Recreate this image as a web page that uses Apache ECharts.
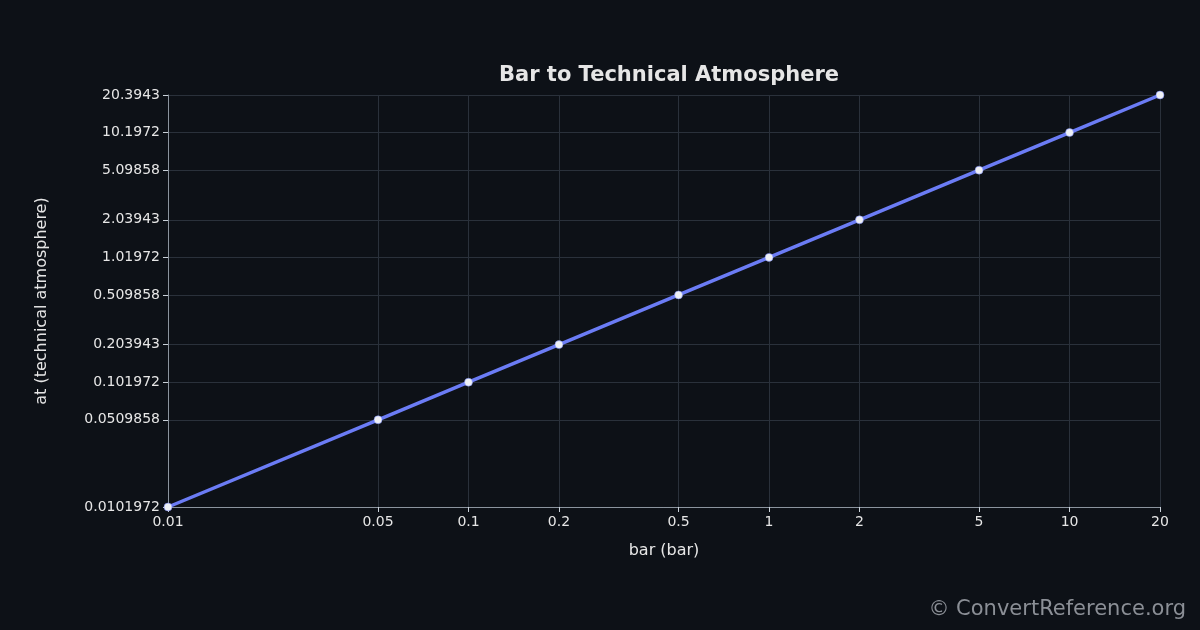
<!DOCTYPE html>
<html>
<head>
<meta charset="utf-8">
<script src="https://cdn.jsdelivr.net/npm/echarts@6/dist/echarts.min.js"></script>
<style>html,body{margin:0;background:#0d1117;}#main{width:1200px;height:630px;}</style>
</head>
<body>
<div id="main"></div>
<script>
var barValues = [0.01, 0.05, 0.1, 0.2, 0.5, 1, 2, 5, 10, 20];
var atValues = [0.0101972, 0.0509858, 0.101972, 0.203943, 0.509858, 1.01972, 2.03943, 5.09858, 10.1972, 20.3943];

var myChart = echarts.init(document.getElementById('main'));

var gridLine = { show: true, lineStyle: { color: '#2a313b', width: 1 } };

var option = {
    backgroundColor: '#0d1117',
    title: {
        text: 'Bar to Technical Atmosphere',
        left: 664, top: 60, textAlign: 'center',
        textStyle: { color: '#e6e6e6', fontSize: 21, fontWeight: 'bold', fontFamily: 'DejaVu Sans' }
    },
    graphic: [{
        type: 'text', right: 14, bottom: 10,
        style: { text: '© ConvertReference.org', fill: '#8b8f96', fontSize: 21, fontFamily: 'DejaVu Sans' }
    }],
    grid: { left: 168, right: 40, top: 95, bottom: 123 },
    xAxis: {
        type: 'log', min: 0.01, max: 20,
        name: 'bar (bar)', nameLocation: 'middle', nameGap: 36,
        nameTextStyle: { color: '#e6e6e6', fontSize: 16, fontFamily: 'DejaVu Sans' },
        axisLine: { lineStyle: { color: '#8b949e' } },
        axisTick: { show: true, customValues: barValues, lineStyle: { color: '#c9d1d9' } },
        axisLabel: { customValues: barValues, color: '#e6e6e6', fontSize: 14, fontFamily: 'DejaVu Sans',
            formatter: function (v) { return String(+v.toPrecision(6)); } },
        splitLine: gridLine
    },
    yAxis: {
        type: 'log', min: atValues[0], max: atValues[atValues.length - 1],
        name: 'at (technical atmosphere)', nameLocation: 'middle', nameGap: 118,
        nameTextStyle: { color: '#e6e6e6', fontSize: 16, fontFamily: 'DejaVu Sans' },
        axisLine: { show: true, lineStyle: { color: '#8b949e' } },
        axisTick: { show: true, customValues: atValues, lineStyle: { color: '#c9d1d9' } },
        axisLabel: { customValues: atValues, color: '#e6e6e6', fontSize: 14, fontFamily: 'DejaVu Sans',
            formatter: function (v) { return String(+v.toPrecision(6)); } },
        splitLine: gridLine
    },
    series: [{
        type: 'line',
        data: barValues.map(function (b, i) { return [b, atValues[i]]; }),
        symbol: 'circle', symbolSize: 8,
        lineStyle: { color: '#6b7cf5', width: 3.5 },
        itemStyle: { color: '#eef0f5', borderColor: '#6b7cf5', borderWidth: 0.5 }
    }]
};

myChart.setOption(option);
</script>
</body>
</html>
